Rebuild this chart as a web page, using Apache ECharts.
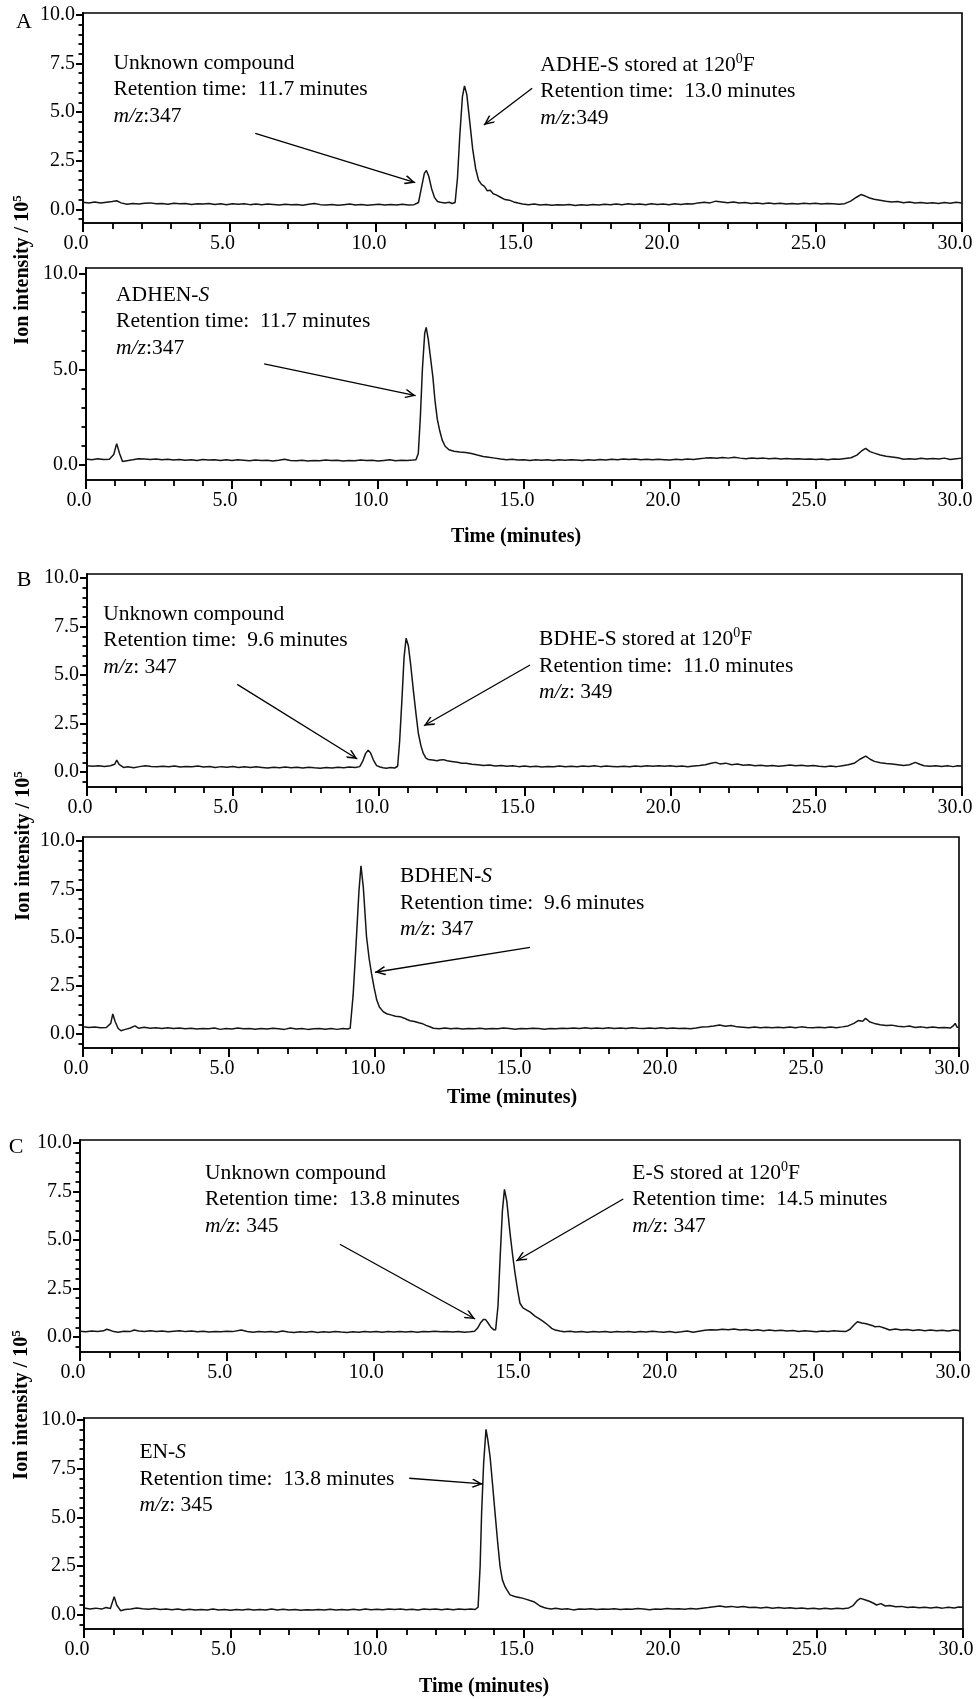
<!DOCTYPE html>
<html><head><meta charset="utf-8">
<script src="https://cdn.jsdelivr.net/npm/echarts@6/dist/echarts.min.js"></script>
<style>html,body{margin:0;padding:0;background:#fff}#c{width:979px;height:1699px;background:#fff}</style>
</head><body><div id="c"></div><script>
// ---------------- DATA (time in minutes, ion intensity in 10^5) ----------------
const traceA_stored = [[0,0.36],[0.2,0.33],[0.4,0.37],[0.6,0.32],[0.8,0.36],[1.0,0.40],[1.15,0.44],[1.3,0.33],[1.5,0.26],[1.7,0.30],[1.9,0.27],[2.1,0.31],[2.3,0.33],[2.5,0.28],[2.7,0.30],[2.9,0.26],[3.1,0.31],[3.3,0.28],[3.5,0.30],[3.7,0.25],[3.9,0.29],[4.1,0.27],[4.3,0.30],[4.5,0.25],[4.7,0.28],[4.9,0.24],[5.1,0.28],[5.3,0.26],[5.5,0.29],[5.7,0.24],[5.9,0.27],[6.1,0.23],[6.3,0.27],[6.5,0.25],[6.7,0.22],[6.9,0.26],[7.1,0.23],[7.3,0.25],[7.5,0.21],[7.7,0.26],[7.9,0.30],[8.1,0.24],[8.3,0.22],[8.5,0.25],[8.7,0.21],[8.9,0.24],[9.1,0.27],[9.3,0.22],[9.5,0.25],[9.7,0.21],[9.9,0.24],[10.1,0.26],[10.3,0.22],[10.5,0.25],[10.7,0.22],[10.9,0.26],[11.1,0.22],[11.3,0.24],[11.45,0.35],[11.55,1.1],[11.65,1.85],[11.72,2.0],[11.8,1.7],[11.9,1.05],[12.0,0.6],[12.1,0.4],[12.2,0.36],[12.35,0.33],[12.5,0.36],[12.6,0.30],[12.7,0.35],[12.78,1.6],[12.86,3.8],[12.95,5.8],[13.02,6.35],[13.1,5.9],[13.2,4.5],[13.3,3.1],[13.4,2.1],[13.5,1.5],[13.6,1.28],[13.7,1.18],[13.8,0.95],[13.9,0.98],[14.0,0.8],[14.1,0.74],[14.25,0.62],[14.4,0.5],[14.55,0.47],[14.7,0.38],[14.85,0.32],[15.0,0.27],[15.2,0.24],[15.4,0.27],[15.6,0.22],[15.8,0.25],[16.0,0.21],[16.2,0.24],[16.4,0.22],[16.6,0.25],[16.8,0.20],[17.0,0.23],[17.2,0.21],[17.4,0.25],[17.6,0.22],[17.8,0.26],[18.0,0.23],[18.2,0.27],[18.4,0.24],[18.6,0.28],[18.8,0.25],[19.0,0.27],[19.2,0.24],[19.4,0.28],[19.6,0.25],[19.8,0.27],[20.0,0.24],[20.2,0.28],[20.4,0.25],[20.6,0.29],[20.8,0.27],[21.0,0.33],[21.2,0.36],[21.4,0.33],[21.6,0.42],[21.8,0.38],[22.0,0.34],[22.2,0.37],[22.4,0.32],[22.6,0.35],[22.8,0.30],[23.0,0.33],[23.2,0.29],[23.4,0.32],[23.6,0.28],[23.8,0.31],[24.0,0.27],[24.2,0.30],[24.4,0.27],[24.6,0.31],[24.8,0.28],[25.0,0.31],[25.2,0.27],[25.4,0.30],[25.6,0.28],[25.8,0.26],[26.0,0.29],[26.2,0.42],[26.4,0.62],[26.55,0.76],[26.7,0.68],[26.85,0.58],[27.0,0.52],[27.2,0.47],[27.4,0.42],[27.6,0.38],[27.8,0.40],[28.0,0.34],[28.2,0.37],[28.4,0.32],[28.6,0.35],[28.8,0.31],[29.0,0.34],[29.2,0.30],[29.4,0.35],[29.6,0.31],[29.8,0.36],[30.0,0.33]];

const traceA_standard = [[0,0.32],[0.2,0.28],[0.4,0.33],[0.6,0.29],[0.8,0.30],[0.95,0.55],[1.05,1.12],[1.15,0.6],[1.25,0.18],[1.4,0.22],[1.6,0.27],[1.8,0.33],[2.0,0.31],[2.2,0.29],[2.4,0.32],[2.6,0.27],[2.8,0.30],[3.0,0.26],[3.2,0.29],[3.4,0.25],[3.6,0.28],[3.8,0.24],[4.0,0.29],[4.2,0.26],[4.4,0.28],[4.6,0.24],[4.8,0.27],[5.0,0.23],[5.2,0.27],[5.4,0.25],[5.6,0.22],[5.8,0.26],[6.0,0.23],[6.2,0.25],[6.4,0.21],[6.6,0.25],[6.8,0.30],[7.0,0.24],[7.2,0.22],[7.4,0.25],[7.6,0.21],[7.8,0.24],[8.0,0.22],[8.2,0.26],[8.4,0.23],[8.6,0.25],[8.8,0.21],[9.0,0.24],[9.2,0.22],[9.4,0.26],[9.6,0.23],[9.8,0.25],[10.0,0.21],[10.2,0.24],[10.4,0.27],[10.6,0.22],[10.8,0.25],[11.0,0.23],[11.2,0.26],[11.3,0.28],[11.38,0.6],[11.45,2.5],[11.52,5.0],[11.6,6.9],[11.65,7.2],[11.72,6.6],[11.8,5.6],[11.88,4.6],[11.95,3.4],[12.03,2.4],[12.12,1.75],[12.2,1.3],[12.3,0.98],[12.43,0.8],[12.6,0.72],[12.8,0.68],[13.0,0.66],[13.2,0.60],[13.4,0.52],[13.6,0.45],[13.8,0.40],[14.0,0.36],[14.2,0.31],[14.4,0.27],[14.6,0.30],[14.8,0.26],[15.0,0.28],[15.2,0.24],[15.4,0.27],[15.6,0.25],[15.8,0.28],[16.0,0.24],[16.2,0.27],[16.4,0.25],[16.6,0.28],[16.8,0.26],[17.0,0.23],[17.2,0.27],[17.4,0.25],[17.6,0.29],[17.8,0.26],[18.0,0.30],[18.2,0.28],[18.4,0.32],[18.6,0.29],[18.8,0.31],[19.0,0.28],[19.2,0.30],[19.4,0.27],[19.6,0.30],[19.8,0.28],[20.0,0.26],[20.2,0.30],[20.4,0.28],[20.6,0.31],[20.8,0.29],[21.0,0.33],[21.2,0.36],[21.4,0.38],[21.6,0.35],[21.8,0.39],[22.0,0.36],[22.2,0.40],[22.4,0.36],[22.6,0.33],[22.8,0.37],[23.0,0.34],[23.2,0.36],[23.4,0.33],[23.6,0.35],[23.8,0.32],[24.0,0.34],[24.2,0.31],[24.4,0.33],[24.6,0.30],[24.8,0.32],[25.0,0.29],[25.2,0.31],[25.4,0.28],[25.6,0.32],[25.8,0.30],[26.0,0.34],[26.2,0.38],[26.4,0.52],[26.55,0.72],[26.7,0.87],[26.85,0.70],[27.0,0.62],[27.2,0.52],[27.4,0.46],[27.6,0.42],[27.8,0.38],[28.0,0.30],[28.2,0.33],[28.4,0.30],[28.6,0.35],[28.8,0.32],[29.0,0.34],[29.2,0.31],[29.4,0.36],[29.6,0.29],[29.8,0.33],[30.0,0.36]];

const traceB_stored = [[0,0.32],[0.2,0.30],[0.4,0.33],[0.6,0.29],[0.8,0.33],[0.95,0.40],[1.02,0.62],[1.1,0.40],[1.25,0.24],[1.4,0.27],[1.6,0.22],[1.8,0.28],[2.0,0.33],[2.2,0.29],[2.4,0.27],[2.6,0.30],[2.8,0.27],[3.0,0.31],[3.2,0.26],[3.4,0.29],[3.6,0.27],[3.8,0.31],[4.0,0.26],[4.2,0.29],[4.4,0.24],[4.6,0.28],[4.8,0.25],[5.0,0.29],[5.2,0.24],[5.4,0.27],[5.6,0.23],[5.8,0.27],[6.0,0.24],[6.2,0.21],[6.4,0.25],[6.6,0.22],[6.8,0.26],[7.0,0.22],[7.2,0.25],[7.4,0.21],[7.6,0.25],[7.8,0.22],[8.0,0.20],[8.2,0.24],[8.4,0.21],[8.6,0.25],[8.8,0.22],[9.0,0.26],[9.2,0.23],[9.35,0.28],[9.45,0.55],[9.55,0.95],[9.64,1.13],[9.72,1.0],[9.82,0.62],[9.93,0.33],[10.05,0.26],[10.15,0.22],[10.27,0.20],[10.4,0.23],[10.55,0.21],[10.65,0.3],[10.72,1.6],[10.8,3.8],[10.87,5.9],[10.94,6.9],[11.02,6.5],[11.1,5.5],[11.19,4.2],[11.28,3.0],[11.36,2.0],[11.45,1.35],[11.53,0.96],[11.62,0.72],[11.7,0.65],[11.85,0.62],[12.0,0.58],[12.1,0.62],[12.22,0.64],[12.35,0.58],[12.5,0.55],[12.7,0.50],[12.85,0.46],[13.0,0.45],[13.2,0.40],[13.4,0.38],[13.6,0.34],[13.8,0.36],[14.0,0.31],[14.2,0.34],[14.4,0.30],[14.6,0.32],[14.8,0.28],[15.0,0.31],[15.2,0.27],[15.4,0.30],[15.6,0.26],[15.8,0.29],[16.0,0.27],[16.2,0.31],[16.4,0.28],[16.6,0.30],[16.8,0.27],[17.0,0.31],[17.2,0.29],[17.4,0.32],[17.6,0.28],[17.8,0.31],[18.0,0.29],[18.2,0.27],[18.4,0.30],[18.6,0.28],[18.8,0.31],[19.0,0.29],[19.2,0.32],[19.4,0.30],[19.6,0.33],[19.8,0.30],[20.0,0.32],[20.2,0.29],[20.4,0.31],[20.6,0.28],[20.8,0.31],[21.0,0.34],[21.2,0.38],[21.4,0.45],[21.55,0.50],[21.7,0.42],[21.9,0.46],[22.1,0.38],[22.3,0.41],[22.5,0.35],[22.7,0.38],[22.9,0.33],[23.1,0.35],[23.3,0.31],[23.5,0.34],[23.7,0.30],[23.9,0.33],[24.1,0.36],[24.3,0.32],[24.5,0.35],[24.7,0.31],[24.9,0.34],[25.1,0.30],[25.3,0.27],[25.5,0.31],[25.7,0.28],[25.9,0.33],[26.1,0.38],[26.3,0.45],[26.5,0.66],[26.7,0.82],[26.85,0.66],[27.0,0.55],[27.2,0.48],[27.4,0.44],[27.6,0.41],[27.8,0.38],[28.0,0.34],[28.2,0.38],[28.4,0.50],[28.55,0.40],[28.7,0.33],[28.9,0.30],[29.1,0.33],[29.3,0.29],[29.5,0.32],[29.7,0.28],[29.85,0.33],[30.0,0.31]];

const traceB_standard = [[0,0.38],[0.2,0.34],[0.4,0.36],[0.6,0.32],[0.8,0.34],[0.95,0.55],[1.02,1.04],[1.1,0.65],[1.2,0.3],[1.3,0.17],[1.45,0.24],[1.6,0.30],[1.78,0.42],[1.9,0.30],[2.1,0.35],[2.3,0.30],[2.5,0.33],[2.7,0.29],[2.9,0.32],[3.1,0.28],[3.3,0.31],[3.5,0.27],[3.7,0.30],[3.9,0.26],[4.1,0.29],[4.3,0.27],[4.5,0.31],[4.7,0.24],[4.9,0.28],[5.1,0.26],[5.3,0.31],[5.5,0.27],[5.7,0.29],[5.9,0.25],[6.1,0.29],[6.3,0.26],[6.5,0.30],[6.7,0.27],[6.9,0.24],[7.1,0.31],[7.3,0.26],[7.5,0.28],[7.7,0.24],[7.9,0.27],[8.1,0.29],[8.3,0.25],[8.5,0.28],[8.7,0.24],[8.9,0.29],[9.05,0.26],[9.15,0.3],[9.25,2.0],[9.35,4.6],[9.45,7.4],[9.52,8.72],[9.6,7.6],[9.71,5.04],[9.8,3.9],[9.88,3.14],[9.97,2.4],[10.06,1.76],[10.15,1.4],[10.28,1.16],[10.4,1.05],[10.57,0.98],[10.7,0.92],[10.86,0.9],[11.0,0.82],[11.1,0.75],[11.2,0.69],[11.35,0.65],[11.5,0.58],[11.6,0.55],[11.75,0.45],[11.9,0.36],[12.0,0.30],[12.2,0.27],[12.4,0.31],[12.6,0.27],[12.8,0.30],[13.0,0.26],[13.2,0.29],[13.4,0.27],[13.6,0.30],[13.8,0.26],[14.0,0.29],[14.2,0.27],[14.4,0.31],[14.6,0.28],[14.8,0.25],[15.0,0.28],[15.2,0.27],[15.4,0.30],[15.6,0.28],[15.8,0.25],[16.0,0.29],[16.2,0.27],[16.4,0.30],[16.6,0.28],[16.8,0.31],[17.0,0.29],[17.2,0.32],[17.4,0.28],[17.6,0.31],[17.8,0.29],[18.0,0.32],[18.2,0.28],[18.4,0.31],[18.6,0.29],[18.8,0.33],[19.0,0.30],[19.2,0.28],[19.4,0.31],[19.6,0.29],[19.8,0.32],[20.0,0.28],[20.2,0.31],[20.4,0.28],[20.6,0.30],[20.8,0.27],[21.0,0.31],[21.2,0.36],[21.4,0.38],[21.6,0.42],[21.8,0.47],[22.0,0.40],[22.2,0.44],[22.4,0.37],[22.6,0.35],[22.8,0.33],[23.0,0.36],[23.2,0.33],[23.4,0.35],[23.6,0.32],[23.8,0.35],[24.0,0.32],[24.2,0.36],[24.4,0.33],[24.6,0.37],[24.8,0.34],[25.0,0.32],[25.2,0.35],[25.4,0.33],[25.6,0.36],[25.8,0.33],[26.0,0.37],[26.2,0.42],[26.4,0.55],[26.55,0.70],[26.7,0.66],[26.8,0.81],[26.95,0.62],[27.1,0.55],[27.3,0.48],[27.5,0.44],[27.7,0.46],[27.9,0.40],[28.1,0.37],[28.3,0.42],[28.5,0.34],[28.7,0.37],[28.9,0.33],[29.1,0.36],[29.3,0.32],[29.5,0.34],[29.7,0.31],[29.8,0.42],[29.87,0.55],[29.93,0.36],[30.0,0.33]];

const traceC_stored = [[0,0.30],[0.2,0.27],[0.4,0.31],[0.6,0.28],[0.8,0.32],[0.91,0.40],[1.0,0.36],[1.15,0.28],[1.3,0.25],[1.5,0.30],[1.7,0.28],[1.85,0.36],[2.0,0.31],[2.2,0.28],[2.4,0.32],[2.6,0.29],[2.8,0.31],[3.0,0.27],[3.2,0.30],[3.4,0.33],[3.6,0.28],[3.8,0.31],[4.0,0.27],[4.2,0.30],[4.4,0.26],[4.6,0.29],[4.8,0.27],[5.0,0.30],[5.2,0.28],[5.5,0.36],[5.7,0.29],[5.9,0.25],[6.1,0.28],[6.3,0.26],[6.5,0.29],[6.7,0.25],[6.9,0.31],[7.1,0.26],[7.3,0.23],[7.5,0.27],[7.7,0.25],[7.9,0.28],[8.1,0.24],[8.3,0.27],[8.5,0.25],[8.7,0.29],[8.9,0.26],[9.1,0.24],[9.3,0.27],[9.5,0.25],[9.7,0.29],[9.9,0.26],[10.1,0.28],[10.3,0.25],[10.5,0.28],[10.7,0.26],[10.9,0.29],[11.1,0.26],[11.3,0.28],[11.5,0.25],[11.7,0.29],[11.9,0.27],[12.1,0.30],[12.3,0.27],[12.5,0.29],[12.7,0.26],[12.9,0.28],[13.1,0.25],[13.3,0.27],[13.45,0.30],[13.55,0.45],[13.65,0.72],[13.75,0.90],[13.82,0.91],[13.9,0.75],[14.0,0.52],[14.1,0.38],[14.17,0.38],[14.25,1.6],[14.32,4.0],[14.4,6.5],[14.47,7.61],[14.55,7.0],[14.66,5.35],[14.75,4.2],[14.83,3.29],[14.92,2.4],[15.0,1.74],[15.1,1.5],[15.23,1.39],[15.35,1.28],[15.51,1.08],[15.65,0.95],[15.8,0.79],[15.95,0.62],[16.08,0.45],[16.2,0.36],[16.36,0.31],[16.5,0.27],[16.7,0.30],[16.9,0.26],[17.1,0.29],[17.3,0.25],[17.5,0.28],[17.7,0.26],[17.9,0.29],[18.1,0.25],[18.3,0.28],[18.5,0.26],[18.7,0.29],[18.9,0.25],[19.1,0.28],[19.3,0.26],[19.5,0.30],[19.7,0.27],[19.9,0.25],[20.1,0.28],[20.3,0.24],[20.5,0.27],[20.7,0.31],[20.9,0.25],[21.1,0.30],[21.3,0.35],[21.5,0.38],[21.7,0.36],[21.9,0.40],[22.1,0.37],[22.3,0.41],[22.5,0.36],[22.7,0.39],[22.9,0.34],[23.1,0.37],[23.3,0.33],[23.5,0.36],[23.7,0.32],[23.9,0.35],[24.1,0.31],[24.3,0.34],[24.5,0.29],[24.7,0.33],[24.9,0.30],[25.1,0.27],[25.3,0.31],[25.5,0.29],[25.7,0.32],[25.9,0.30],[26.1,0.28],[26.25,0.40],[26.4,0.65],[26.5,0.79],[26.65,0.72],[26.8,0.68],[27.0,0.60],[27.1,0.53],[27.25,0.55],[27.44,0.45],[27.6,0.36],[27.8,0.42],[28.0,0.36],[28.2,0.39],[28.4,0.34],[28.6,0.37],[28.8,0.33],[29.0,0.36],[29.2,0.32],[29.4,0.35],[29.6,0.31],[29.8,0.36],[30.0,0.33]];

const traceC_standard = [[0,0.36],[0.2,0.31],[0.4,0.35],[0.6,0.30],[0.75,0.38],[0.9,0.33],[1.03,0.94],[1.12,0.5],[1.25,0.22],[1.4,0.28],[1.6,0.30],[1.8,0.36],[2.0,0.32],[2.2,0.29],[2.4,0.33],[2.6,0.28],[2.8,0.31],[3.0,0.27],[3.2,0.30],[3.4,0.26],[3.6,0.29],[3.8,0.25],[4.0,0.28],[4.2,0.26],[4.4,0.30],[4.6,0.25],[4.8,0.28],[5.0,0.24],[5.2,0.28],[5.4,0.26],[5.6,0.29],[5.8,0.25],[6.0,0.28],[6.2,0.26],[6.4,0.31],[6.6,0.26],[6.8,0.29],[7.0,0.25],[7.2,0.28],[7.4,0.24],[7.6,0.27],[7.8,0.25],[8.0,0.28],[8.2,0.25],[8.4,0.29],[8.6,0.26],[8.8,0.28],[9.0,0.25],[9.2,0.29],[9.4,0.26],[9.6,0.30],[9.8,0.27],[10.0,0.29],[10.2,0.27],[10.4,0.31],[10.6,0.28],[10.8,0.30],[11.0,0.27],[11.2,0.29],[11.4,0.26],[11.6,0.30],[11.8,0.28],[12.0,0.31],[12.2,0.27],[12.4,0.30],[12.6,0.27],[12.8,0.31],[13.0,0.28],[13.2,0.30],[13.35,0.28],[13.45,0.4],[13.52,2.5],[13.57,5.2],[13.64,7.8],[13.72,9.52],[13.78,9.0],[13.86,8.1],[13.95,6.6],[14.03,5.21],[14.12,3.7],[14.2,2.48],[14.28,1.8],[14.37,1.45],[14.45,1.25],[14.54,1.03],[14.7,0.95],[14.85,0.9],[14.99,0.85],[15.1,0.8],[15.22,0.74],[15.35,0.68],[15.45,0.58],[15.56,0.46],[15.7,0.38],[15.79,0.34],[15.95,0.31],[16.1,0.34],[16.3,0.29],[16.5,0.32],[16.7,0.26],[16.9,0.31],[17.1,0.29],[17.3,0.32],[17.5,0.28],[17.7,0.31],[17.9,0.29],[18.1,0.32],[18.3,0.28],[18.5,0.31],[18.7,0.29],[18.9,0.33],[19.1,0.30],[19.3,0.27],[19.5,0.31],[19.7,0.29],[19.9,0.33],[20.1,0.30],[20.3,0.32],[20.5,0.29],[20.7,0.33],[20.9,0.31],[21.1,0.35],[21.3,0.38],[21.5,0.42],[21.7,0.46],[21.9,0.41],[22.1,0.44],[22.3,0.40],[22.5,0.43],[22.7,0.38],[22.9,0.40],[23.1,0.36],[23.3,0.39],[23.5,0.35],[23.7,0.38],[23.9,0.34],[24.1,0.37],[24.3,0.33],[24.5,0.36],[24.7,0.32],[24.9,0.35],[25.1,0.31],[25.3,0.34],[25.5,0.31],[25.7,0.35],[25.9,0.32],[26.1,0.36],[26.25,0.48],[26.4,0.75],[26.5,0.85],[26.65,0.78],[26.8,0.70],[26.95,0.60],[27.05,0.51],[27.2,0.58],[27.35,0.46],[27.5,0.48],[27.7,0.42],[27.9,0.44],[28.1,0.38],[28.3,0.41],[28.5,0.37],[28.7,0.40],[28.9,0.36],[29.1,0.39],[29.3,0.35],[29.5,0.40],[29.7,0.36],[29.85,0.41],[30.0,0.39]];

// tick values
const yTicks25 = [0, 2.5, 5, 7.5, 10];
const yTicks5 = [0, 5, 10];
const yMinorHalf = [-0.5,0.5,1,1.5,2,3,3.5,4,4.5,5.5,6,6.5,7,8,8.5,9,9.5];
const yMinorOne = [1,2,3,4,6,7,8,9];

// annotation texts (anchor = left/centre of first line, in data coords) and arrows (from -> to)
const notesA1 = [
  {at:[1.04, 7.53], lines:['{a|Unknown compound}','{a|Retention time:  11.7 minutes}','{i|m/z}{a|:347}']},
  {at:[15.61, 7.42], lines:['{a|ADHE-S stored at 120}{s|0}{a|F}','{a|Retention time:  13.0 minutes}','{i|m/z}{a|:349}']}
];
const arrowsA1 = [[[5.88,3.91],[11.34,1.37]], [[15.33,6.23],[13.68,4.34]]];
const notesA2 = [
  {at:[1.03, 8.9], lines:['{a|ADHEN-}{i|S}','{a|Retention time:  11.7 minutes}','{i|m/z}{a|:347}']}
];
const arrowsA2 = [[[6.1,5.29],[11.29,3.63]]];
const notesB1 = [
  {at:[0.56, 8.14], lines:['{a|Unknown compound}','{a|Retention time:  9.6 minutes}','{i|m/z}{a|: 347}']},
  {at:[15.5, 6.84], lines:['{a|BDHE-S stored at 120}{s|0}{a|F}','{a|Retention time:  11.0 minutes}','{i|m/z}{a|: 349}']}
];
const arrowsB1 = [[[5.15,4.52],[9.27,0.67]], [[15.19,5.52],[11.55,2.39]]];
const notesB2 = [
  {at:[10.86, 8.15], lines:['{a|BDHEN-}{i|S}','{a|Retention time:  9.6 minutes}','{i|m/z}{a|: 347}']}
];
const arrowsB2 = [[[15.31,4.49],[10.0,3.2]]];
const notesC1 = [
  {at:[4.26, 8.44], lines:['{a|Unknown compound}','{a|Retention time:  13.8 minutes}','{i|m/z}{a|: 345}']},
  {at:[18.83, 8.44], lines:['{a|E-S stored at 120}{s|0}{a|F}','{a|Retention time:  14.5 minutes}','{i|m/z}{a|: 347}']}
];
const arrowsC1 = [[[8.86,4.78],[13.47,0.93]], [[18.52,7.11],[14.87,3.92]]];
const notesC2 = [
  {at:[1.89, 8.32], lines:['{a|EN-}{i|S}','{a|Retention time:  13.8 minutes}','{i|m/z}{a|: 345}']}
];
const arrowsC2 = [[[11.1,7.01],[13.61,6.72]]];

// ---------------- LAYOUT / STYLE ----------------
const FONT = "'Liberation Serif','Times New Roman',serif";
const FS = 21.5;
const LH = 26.5;
const layout = [
  {left:83, top:13,   width:879, height:210, ymin:-0.705, ymax:10.1,  labels:yTicks25, minor:yMinorHalf},
  {left:86, top:268,  width:876, height:212, ymin:-0.785, ymax:10.31, labels:yTicks5,  minor:yMinorOne},
  {left:87, top:574,  width:875, height:213, ymin:-0.77,  ymax:10.21, labels:yTicks25, minor:yMinorHalf},
  {left:83, top:837,  width:876, height:211, ymin:-0.725, ymax:10.21, labels:yTicks25, minor:yMinorHalf},
  {left:80, top:1140, width:880, height:212, ymin:-0.77,  ymax:10.15, labels:yTicks25, minor:yMinorHalf},
  {left:84, top:1418, width:879, height:211, ymin:-0.72,  ymax:10.1,  labels:yTicks25, minor:yMinorHalf}
];
const traces = [traceA_stored, traceA_standard, traceB_stored, traceB_standard, traceC_stored, traceC_standard];
const notes = [notesA1, notesA2, notesB1, notesB2, notesC1, notesC2];
const arrows = [arrowsA1, arrowsA2, arrowsB1, arrowsB2, arrowsC1, arrowsC2];
const ARROW = 'path://M50,0L100,86L90,100L50,30L10,100L0,86Z';

const RICH = {
  a: {fontFamily:FONT, fontSize:FS, fill:'#000', lineHeight:LH},
  i: {fontFamily:FONT, fontSize:FS, fontStyle:'italic', fill:'#000', lineHeight:LH},
  s: {fontFamily:FONT, fontSize:14, fill:'#000', lineHeight:17, verticalAlign:'top'},
  b: {fontFamily:FONT, fontSize:20, fontWeight:'bold', fill:'#000', lineHeight:24},
  bs: {fontFamily:FONT, fontSize:13, fontWeight:'bold', fill:'#000', lineHeight:15, verticalAlign:'top'}
};

const AXLINE = {show:true, onZero:false, lineStyle:{color:'#000', width:1.6}};
const grids = [], xAxes = [], yAxes = [], series = [];
layout.forEach((L, i) => {
  grids.push({left:L.left, top:L.top, width:L.width, height:L.height, show:true,
    borderColor:'#000', borderWidth:1.6, backgroundColor:'transparent', outerBoundsMode:'none', containLabel:false});
  xAxes.push({gridIndex:i, type:'value', min:0, max:30, interval:5, position:'bottom',
    axisLine:AXLINE, splitLine:{show:false}, minorSplitLine:{show:false},
    axisTick:{show:true, inside:false, length:9, lineStyle:{color:'#000', width:2}},
    minorTick:{show:true, splitNumber:5, length:6, lineStyle:{color:'#000', width:1.8}},
    axisLabel:{formatter:v => v.toFixed(1), margin:11, padding:[0,14,0,0], color:'#000',
      fontFamily:FONT, fontSize:20, showMinLabel:true, showMaxLabel:true}});
  yAxes.push({gridIndex:i, type:'value', min:L.ymin, max:L.ymax, position:'left', offset:0,
    axisLine:AXLINE, splitLine:{show:false},
    axisTick:{show:true, inside:false, length:7, customValues:L.labels, lineStyle:{color:'#000', width:2}},
    axisLabel:{show:true, customValues:L.labels, formatter:v => v.toFixed(1), margin:8, color:'#000',
      fontFamily:FONT, fontSize:20}});
  yAxes.push({gridIndex:i, type:'value', min:L.ymin, max:L.ymax, position:'left', offset:0,
    axisLine:AXLINE, splitLine:{show:false}, axisLabel:{show:false},
    axisTick:{show:true, inside:false, length:4.5, customValues:L.minor, lineStyle:{color:'#000', width:1.8}}});
  series.push({type:'line', xAxisIndex:i, yAxisIndex:2*i, data:traces[i], showSymbol:false, symbol:'none',
    silent:true, lineStyle:{color:'#151515', width:1.5},
    markLine:{silent:true, animation:false, symbol:['none','arrow'], symbolSize:10,
      lineStyle:{color:'#000', width:1.3, type:'solid'},
      label:{show:false}, emphasis:{disabled:true},
      data: arrows[i].map(a => [
        {coord:a[0], symbol:'none'},
        {coord:a[1], symbol:ARROW, symbolSize:[9,11], symbolOffset:[0,5.5]}
      ])}});
});

const chart = echarts.init(document.getElementById('c'), null, {renderer:'canvas'});
chart.setOption({animation:false, grid:grids, xAxis:xAxes, yAxis:yAxes, series:series});

const graphics = [];
// annotation texts placed through the axes' own scales
notes.forEach((list, i) => list.forEach(n => {
  const p = chart.convertToPixel({xAxisIndex:i, yAxisIndex:2*i}, n.at);
  graphics.push({type:'text', x:p[0], y:p[1] - LH/2, silent:true, z:10,
    style:{text:n.lines.join('\n'), rich:RICH, align:'left', verticalAlign:'top', fill:'#000',
      fontFamily:FONT, fontSize:FS, lineHeight:LH}});
}));
// panel letters
[['A',24,22],['B',24,580],['C',16,1147]].forEach(t => graphics.push({type:'text', x:t[1], y:t[2], silent:true,
  style:{text:t[0], fontFamily:FONT, fontSize:22, fill:'#000', align:'center', verticalAlign:'middle'}}));
// y-axis titles
[[23,270],[24,846],[22,1405]].forEach(t => graphics.push({type:'text', x:t[0], y:t[1], rotation:Math.PI/2, silent:true,
  style:{text:'{b|Ion intensity / 10}{bs|5}', rich:RICH, align:'center', verticalAlign:'middle', fill:'#000'}}));
// x-axis titles
[[516,537],[512,1098],[484,1687]].forEach(t => graphics.push({type:'text', x:t[0], y:t[1], silent:true,
  style:{text:'Time (minutes)', fontFamily:FONT, fontSize:20, fontWeight:'bold', fill:'#000', align:'center', verticalAlign:'middle'}}));
chart.setOption({graphic:graphics});
</script></body></html>
